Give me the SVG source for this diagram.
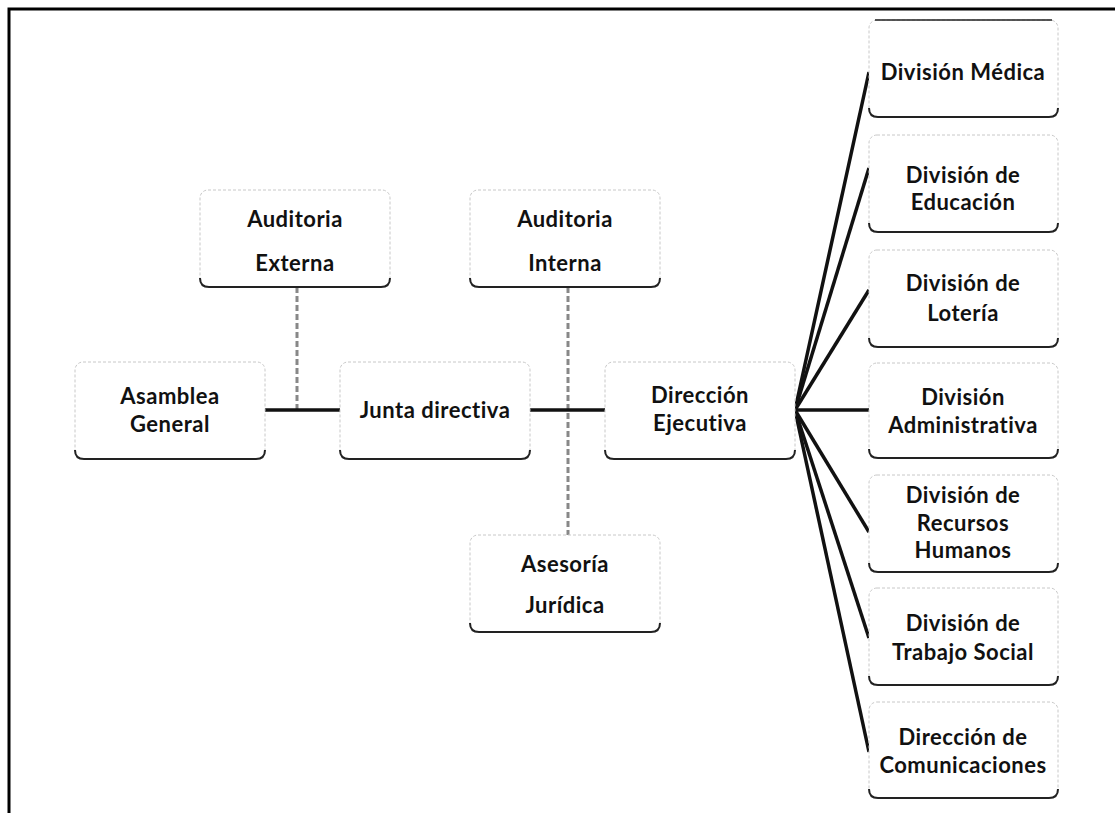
<svg xmlns="http://www.w3.org/2000/svg" width="1115" height="813" viewBox="0 0 1115 813">
<style>
.box{fill:#fff;stroke:#c8c8c8;stroke-width:1;stroke-dasharray:3 2}
.sh{fill:none;stroke:#222;stroke-width:2}
.t{font-family:Lato,"Liberation Sans",sans-serif;font-weight:bold;font-size:22px;letter-spacing:0.5px;fill:#111;text-anchor:middle}
.c{stroke:#111;stroke-width:3.5;fill:none}
.d{stroke:#888;stroke-width:3;fill:none;stroke-dasharray:6 3}
</style>
<rect width="1115" height="813" fill="#fff"/>
<path d="M9 813 V9 H1115" fill="none" stroke="#000" stroke-width="3"/>
<g id="connectors">
<line class="d" x1="297" y1="287" x2="297" y2="410"/>
<line class="d" x1="568" y1="287" x2="568" y2="535"/>
<line class="c" x1="265" y1="410" x2="340" y2="410"/>
<line class="c" x1="530" y1="410" x2="605" y2="410"/>
<line class="c" x1="795" y1="410" x2="869" y2="72"/>
<line class="c" x1="795" y1="410" x2="869" y2="168"/>
<line class="c" x1="795" y1="410" x2="869" y2="290"/>
<line class="c" x1="795" y1="410" x2="869" y2="410"/>
<line class="c" x1="795" y1="410" x2="869" y2="532"/>
<line class="c" x1="795" y1="410" x2="869" y2="638"/>
<line class="c" x1="795" y1="410" x2="869" y2="752"/>
</g>
<g id="asamblea">
<rect class="box" x="75" y="362" width="190" height="97" rx="8"/>
<path class="sh" d="M75 450 Q75 459 84 459 H256 Q265 459 265 450"/>
<text class="t" x="170" y="404">Asamblea</text>
<text class="t" x="170" y="432">General</text>
</g>
<g id="junta">
<rect class="box" x="340" y="362" width="190" height="97" rx="8"/>
<path class="sh" d="M340 450 Q340 459 349 459 H521 Q530 459 530 450"/>
<text class="t" x="435" y="418">Junta directiva</text>
</g>
<g id="direccion">
<rect class="box" x="605" y="362" width="190" height="97" rx="8"/>
<path class="sh" d="M605 450 Q605 459 614 459 H786 Q795 459 795 450"/>
<text class="t" x="700" y="403">Dirección</text>
<text class="t" x="700" y="431">Ejecutiva</text>
</g>
<g id="aud-externa">
<rect class="box" x="200" y="190" width="190" height="97" rx="8"/>
<path class="sh" d="M200 278 Q200 287 209 287 H381 Q390 287 390 278"/>
<text class="t" x="295" y="227">Auditoria</text>
<text class="t" x="295" y="271">Externa</text>
</g>
<g id="aud-interna">
<rect class="box" x="470" y="190" width="190" height="97" rx="8"/>
<path class="sh" d="M470 278 Q470 287 479 287 H651 Q660 287 660 278"/>
<text class="t" x="565" y="227">Auditoria</text>
<text class="t" x="565" y="271">Interna</text>
</g>
<g id="asesoria">
<rect class="box" x="470" y="535" width="190" height="97" rx="8"/>
<path class="sh" d="M470 623 Q470 632 479 632 H651 Q660 632 660 623"/>
<text class="t" x="565" y="572">Asesoría</text>
<text class="t" x="565" y="613">Jurídica</text>
</g>
<g id="div-medica">
<rect class="box" x="869" y="20" width="189" height="97" rx="8"/>
<line x1="875" y1="20" x2="1052" y2="20" stroke="#222" stroke-width="1.5"/>
<path class="sh" d="M869 108 Q869 117 878 117 H1049 Q1058 117 1058 108"/>
<text class="t" x="963" y="80">División Médica</text>
</g>
<g id="div-educacion">
<rect class="box" x="869" y="135" width="189" height="97" rx="8"/>
<path class="sh" d="M869 223 Q869 232 878 232 H1049 Q1058 232 1058 223"/>
<text class="t" x="963" y="183">División de</text>
<text class="t" x="963" y="210">Educación</text>
</g>
<g id="div-loteria">
<rect class="box" x="869" y="250" width="189" height="97" rx="8"/>
<path class="sh" d="M869 338 Q869 347 878 347 H1049 Q1058 347 1058 338"/>
<text class="t" x="963" y="291">División de</text>
<text class="t" x="963" y="321">Lotería</text>
</g>
<g id="div-administrativa">
<rect class="box" x="869" y="363" width="189" height="95" rx="8"/>
<path class="sh" d="M869 449 Q869 458 878 458 H1049 Q1058 458 1058 449"/>
<text class="t" x="963" y="405">División</text>
<text class="t" x="963" y="433">Administrativa</text>
</g>
<g id="div-rrhh">
<rect class="box" x="869" y="475" width="189" height="97" rx="8"/>
<path class="sh" d="M869 563 Q869 572 878 572 H1049 Q1058 572 1058 563"/>
<text class="t" x="963" y="503">División de</text>
<text class="t" x="963" y="531">Recursos</text>
<text class="t" x="963" y="558">Humanos</text>
</g>
<g id="div-trabajo">
<rect class="box" x="869" y="588" width="189" height="97" rx="8"/>
<path class="sh" d="M869 676 Q869 685 878 685 H1049 Q1058 685 1058 676"/>
<text class="t" x="963" y="631">División de</text>
<text class="t" x="963" y="660">Trabajo Social</text>
</g>
<g id="dir-comunicaciones">
<rect class="box" x="869" y="702" width="189" height="96" rx="8"/>
<path class="sh" d="M869 789 Q869 798 878 798 H1049 Q1058 798 1058 789"/>
<text class="t" x="963" y="745">Dirección de</text>
<text class="t" x="963" y="773">Comunicaciones</text>
</g>
</svg>
